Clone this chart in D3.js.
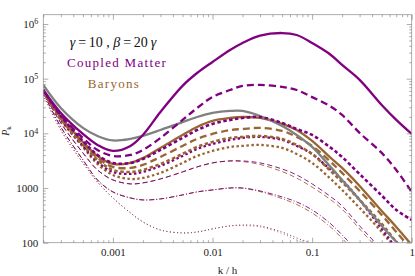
<!DOCTYPE html>
<html><head><meta charset="utf-8">
<script src="https://cdn.jsdelivr.net/npm/d3@7"></script>
<style>body{margin:0;background:#fff}svg{display:block}svg text{font-family:"Liberation Serif","Times New Roman","DejaVu Serif",serif}</style>
</head><body><svg id="c" width="415" height="276"></svg>
<script>
// ---- data ----
const kValues = [0.0002,0.0003,0.0005,0.0007,0.001,0.0015,0.002,0.003,0.005,0.007,0.01,0.015,0.02,0.03,0.05,0.07,0.1,0.15,0.2,0.3,0.5,0.7,1.0];
const reference      = [7.7e4,2.91e4,1.26e4,8960,7410,7900,8960,1.15e4,1.61e4,1.99e4,2.36e4,2.57e4,2.57e4,2.08e4,1.36e4,9350,5640,2540,1406,606,203,104,53];
const coupledSolid   = [6.2e4,2.36e4,9750,6140,4770,5890,9350,2.46e4,7.4e4,1.27e5,2.02e5,3.35e5,4.5e5,6.15e5,6.84e5,6.3e5,4.5e5,2.83e5,1.78e5,9.5e4,3.3e4,1.76e4,9750];
const coupledDashed  = [6.2e4,2.17e4,8240,4970,3860,4030,4970,8240,1.76e4,2.91e4,4.63e4,6.2e4,7.37e4,7.7e4,7.06e4,6.2e4,4.6e4,3.17e4,2.17e4,1.02e4,4390,2140,849];
const coupledDotDash = [6.2e4,2.08e4,7260,4030,2880,2880,3400,4970,8240,1.15e4,1.49e4,1.76e4,1.91e4,1.99e4,1.55e4,1.2e4,9350,5640,3700,1800,729,398,261];
const coupledDotted  = [6.2e4,1.83e4,5890,3000,1970,1810,1970,2540,3860,5190,6400,7570,8240,8600,7570,5890,4200,2230,1406,606,179,80,39];
const baryonSolid    = [5.95e4,1.99e4,6960,3860,2760,2880,3550,5410,9350,1.31e4,1.69e4,1.91e4,1.99e4,1.91e4,1.49e4,1.15e4,7260,3700,2330,1092,381,194,91];
const baryonDashed   = [5.95e4,1.91e4,6670,3550,2430,2330,2645,3700,5890,7900,9750,1.15e4,1.2e4,1.26e4,1.11e4,8600,5890,3130,1890,885,322,157,74];
const baryonDotDash  = [5.95e4,1.83e4,6140,3270,2140,1970,2140,2760,4200,5640,6960,8240,8600,8960,7900,6140,4200,2140,1290,606,221,104,49];
const baryonDotted   = [5.95e4,1.76e4,5640,2760,1735,1466,1530,1890,2880,3860,4770,5640,5890,6140,5410,4200,2880,1530,923,433,157,74,35];
const coupledThinDashed  = [5.7e4,1.55e4,4390,2140,1406,1190,1240,1466,1970,2430,2880,3130,3130,2880,2230,1735,1190,718,471,203,74,35,16];
const baryonThinDashed   = [5.7e4,1.55e4,4390,2140,1406,1190,1240,1466,1970,2430,2880,3130,3050,2700,2000,1520,1040,630,410,178,64,30,14];
const coupledThinDotDash = [5.5e4,1.31e4,3270,1406,849,659,606,632,748,849,923,1004,1004,885,687,557,398,230,139,62,21,10,4.6];
const baryonThinDotDash  = [5.5e4,1.31e4,3270,1406,849,659,606,632,748,849,923,1000,990,860,640,500,350,200,120,54,18,8.5,4];
const coupledThinDotted  = [5.04e4,1.15e4,2880,1290,659,351,240,171,151,157,179,203,211,203,157,122,95,57,38,17,5.4,2.6,1.1];
const baryonThinDotted   = [5.04e4,1.15e4,2880,1290,659,351,240,171,151,157,179,203,205,195,148,112,85,50,33,15,4.7,2.2,0.9];

const xMajor = [0.001,0.01,0.1,1];
const xMajorLabels = ["0.001","0.01","0.1","1"];
const yMajor = [100,1000,1e4,1e5,1e6];
const yMajorLabels = ["100","1000","10^4","10^5","10^6"];
const legendLabels = ["Coupled Matter","Baryons"];

// ---- styles ----
const PURPLE = "#800080", BROWN = "#996633", GRAY = "#808080";
const series = [
  {v: coupledThinDotted,  c: PURPLE, w: 0.9, d: "1,2.5"},
  {v: baryonThinDotted,   c: BROWN,  w: 0.9, d: "1,2.5"},
  {v: baryonThinDotDash,  c: BROWN,  w: 0.9, d: "5,2,1,2"},
  {v: coupledThinDotDash, c: PURPLE, w: 0.9, d: "5,2,1,2"},
  {v: baryonThinDashed,   c: BROWN,  w: 0.9, d: "5,3"},
  {v: coupledThinDashed,  c: PURPLE, w: 0.9, d: "5,3"},
  {v: baryonDotted,   c: BROWN,  w: 2.3, d: "2.5,2.5"},
  {v: coupledDotted,  c: PURPLE, w: 2.3, d: "2.5,2.5"},
  {v: baryonDotDash,  c: BROWN,  w: 2.6, d: "3.5,2.5"},
  {v: baryonDashed,   c: BROWN,  w: 2.3, d: "7,4"},
  {v: baryonSolid,    c: BROWN,  w: 2.3, d: null},
  {v: reference,      c: GRAY,   w: 2.3, d: null},
  {v: coupledDotDash, c: PURPLE, w: 2.6, d: "3.5,2.5"},
  {v: coupledDashed,  c: PURPLE, w: 2.3, d: "7,4"},
  {v: coupledSolid,   c: PURPLE, w: 2.3, d: null}
];

const m = {l:43.3, r:411.7, t:14.7, b:242.7};
const x = d3.scaleLog().domain([0.0002,1]).range([m.l,m.r]);
const y = d3.scaleLog().domain([100,1.48e6]).range([m.b,m.t]);
const svg = d3.select("#c");

svg.append("clipPath").attr("id","clip").append("rect")
  .attr("x",m.l).attr("y",m.t).attr("width",m.r-m.l).attr("height",m.b-m.t);

const line = d3.line().x((d,i)=>x(kValues[i])).y(d=>y(d)).curve(d3.curveCatmullRom.alpha(0.5));
const g = svg.append("g").attr("clip-path","url(#clip)");
series.forEach(s=>{
  g.append("path").attr("d",line(s.v)).attr("fill","none")
   .attr("stroke",s.c).attr("stroke-width",s.w)
   .attr("stroke-dasharray",s.d)
   .attr("stroke-linejoin","round");
});

// frame
svg.append("rect").attr("x",m.l).attr("y",m.t).attr("width",m.r-m.l).attr("height",m.b-m.t)
  .attr("fill","none").attr("stroke","#999").attr("stroke-width",0.8);

function minorTicks(lo,hi){const out=[];for(let e=lo;e<=hi;e++){for(let k=2;k<=9;k++)out.push(k*Math.pow(10,e));}return out;}
const xMinor = minorTicks(-4,-1).filter(v=>v>=0.0002&&v<=1);
const yMinor = minorTicks(2,6).filter(v=>v>=100&&v<=1.48e6);

function styleAxis(sel){
  sel.select(".domain").remove();
  sel.selectAll(".tick line").attr("stroke","#777").attr("stroke-width",0.6);
  sel.selectAll("text").attr("font-family",null).attr("font-size",11).attr("fill","#222");
}
// bottom
svg.append("g").attr("transform",`translate(0,${m.b})`)
  .call(d3.axisBottom(x).tickValues(xMajor).tickSize(-5).tickPadding(6).tickFormat((d,i)=>xMajorLabels[i]))
  .call(styleAxis);
svg.append("g").attr("transform",`translate(0,${m.b})`)
  .call(d3.axisBottom(x).tickValues(xMinor).tickSize(-2.5).tickFormat(""))
  .call(styleAxis);
// top
svg.append("g").attr("transform",`translate(0,${m.t})`)
  .call(d3.axisTop(x).tickValues(xMajor).tickSize(-5).tickFormat(""))
  .call(styleAxis);
svg.append("g").attr("transform",`translate(0,${m.t})`)
  .call(d3.axisTop(x).tickValues(xMinor).tickSize(-2.5).tickFormat(""))
  .call(styleAxis);
// left
const gy = svg.append("g").attr("transform",`translate(${m.l},0)`)
  .call(d3.axisLeft(y).tickValues(yMajor).tickSize(-5).tickPadding(5).tickFormat((d,i)=>yMajorLabels[i]))
  .call(styleAxis);
gy.selectAll(".tick text").each(function(){
  const t = d3.select(this); const s = t.text();
  if(s.includes("^")){
    const [b,e] = s.split("^"); t.text(b);
    t.append("tspan").attr("dy","-0.45em").attr("font-size",8).text(e);
  }
});
svg.append("g").attr("transform",`translate(${m.l},0)`)
  .call(d3.axisLeft(y).tickValues(yMinor).tickSize(-2.5).tickFormat(""))
  .call(styleAxis);
// right
svg.append("g").attr("transform",`translate(${m.r},0)`)
  .call(d3.axisRight(y).tickValues(yMajor).tickSize(-5).tickFormat(""))
  .call(styleAxis);
svg.append("g").attr("transform",`translate(${m.r},0)`)
  .call(d3.axisRight(y).tickValues(yMinor).tickSize(-2.5).tickFormat(""))
  .call(styleAxis);

// axis labels
svg.append("text").attr("x",(m.l+m.r)/2).attr("y",274).attr("text-anchor","middle")
  .attr("font-size",11).attr("fill","#222").text("k / h");
const pl = svg.append("text").attr("transform","translate(9,131) rotate(-90)").attr("text-anchor","middle")
  .attr("font-size",10).attr("fill","#222");
pl.append("tspan").attr("font-style","italic").text("P");
pl.append("tspan").attr("font-size",7).attr("dy","0.3em").text("k");

// annotations
const tt = svg.append("text").attr("x",113).attr("y",47).attr("text-anchor","middle")
  .attr("font-size",14).attr("fill","#111");
tt.append("tspan").attr("font-style","italic").text("γ");
tt.append("tspan").text("\u2009=\u200910 , ");
tt.append("tspan").attr("font-style","italic").text("β");
tt.append("tspan").text("\u2009=\u200920");
tt.append("tspan").attr("font-style","italic").text("\u2009γ");
svg.append("text").attr("x",117).attr("y",67).attr("text-anchor","middle")
  .attr("font-size",13).attr("letter-spacing",1.3).attr("fill",PURPLE).text(legendLabels[0]);
svg.append("text").attr("x",114).attr("y",88).attr("text-anchor","middle")
  .attr("font-size",13).attr("letter-spacing",1.3).attr("fill",BROWN).text(legendLabels[1]);
</script></body></html>
